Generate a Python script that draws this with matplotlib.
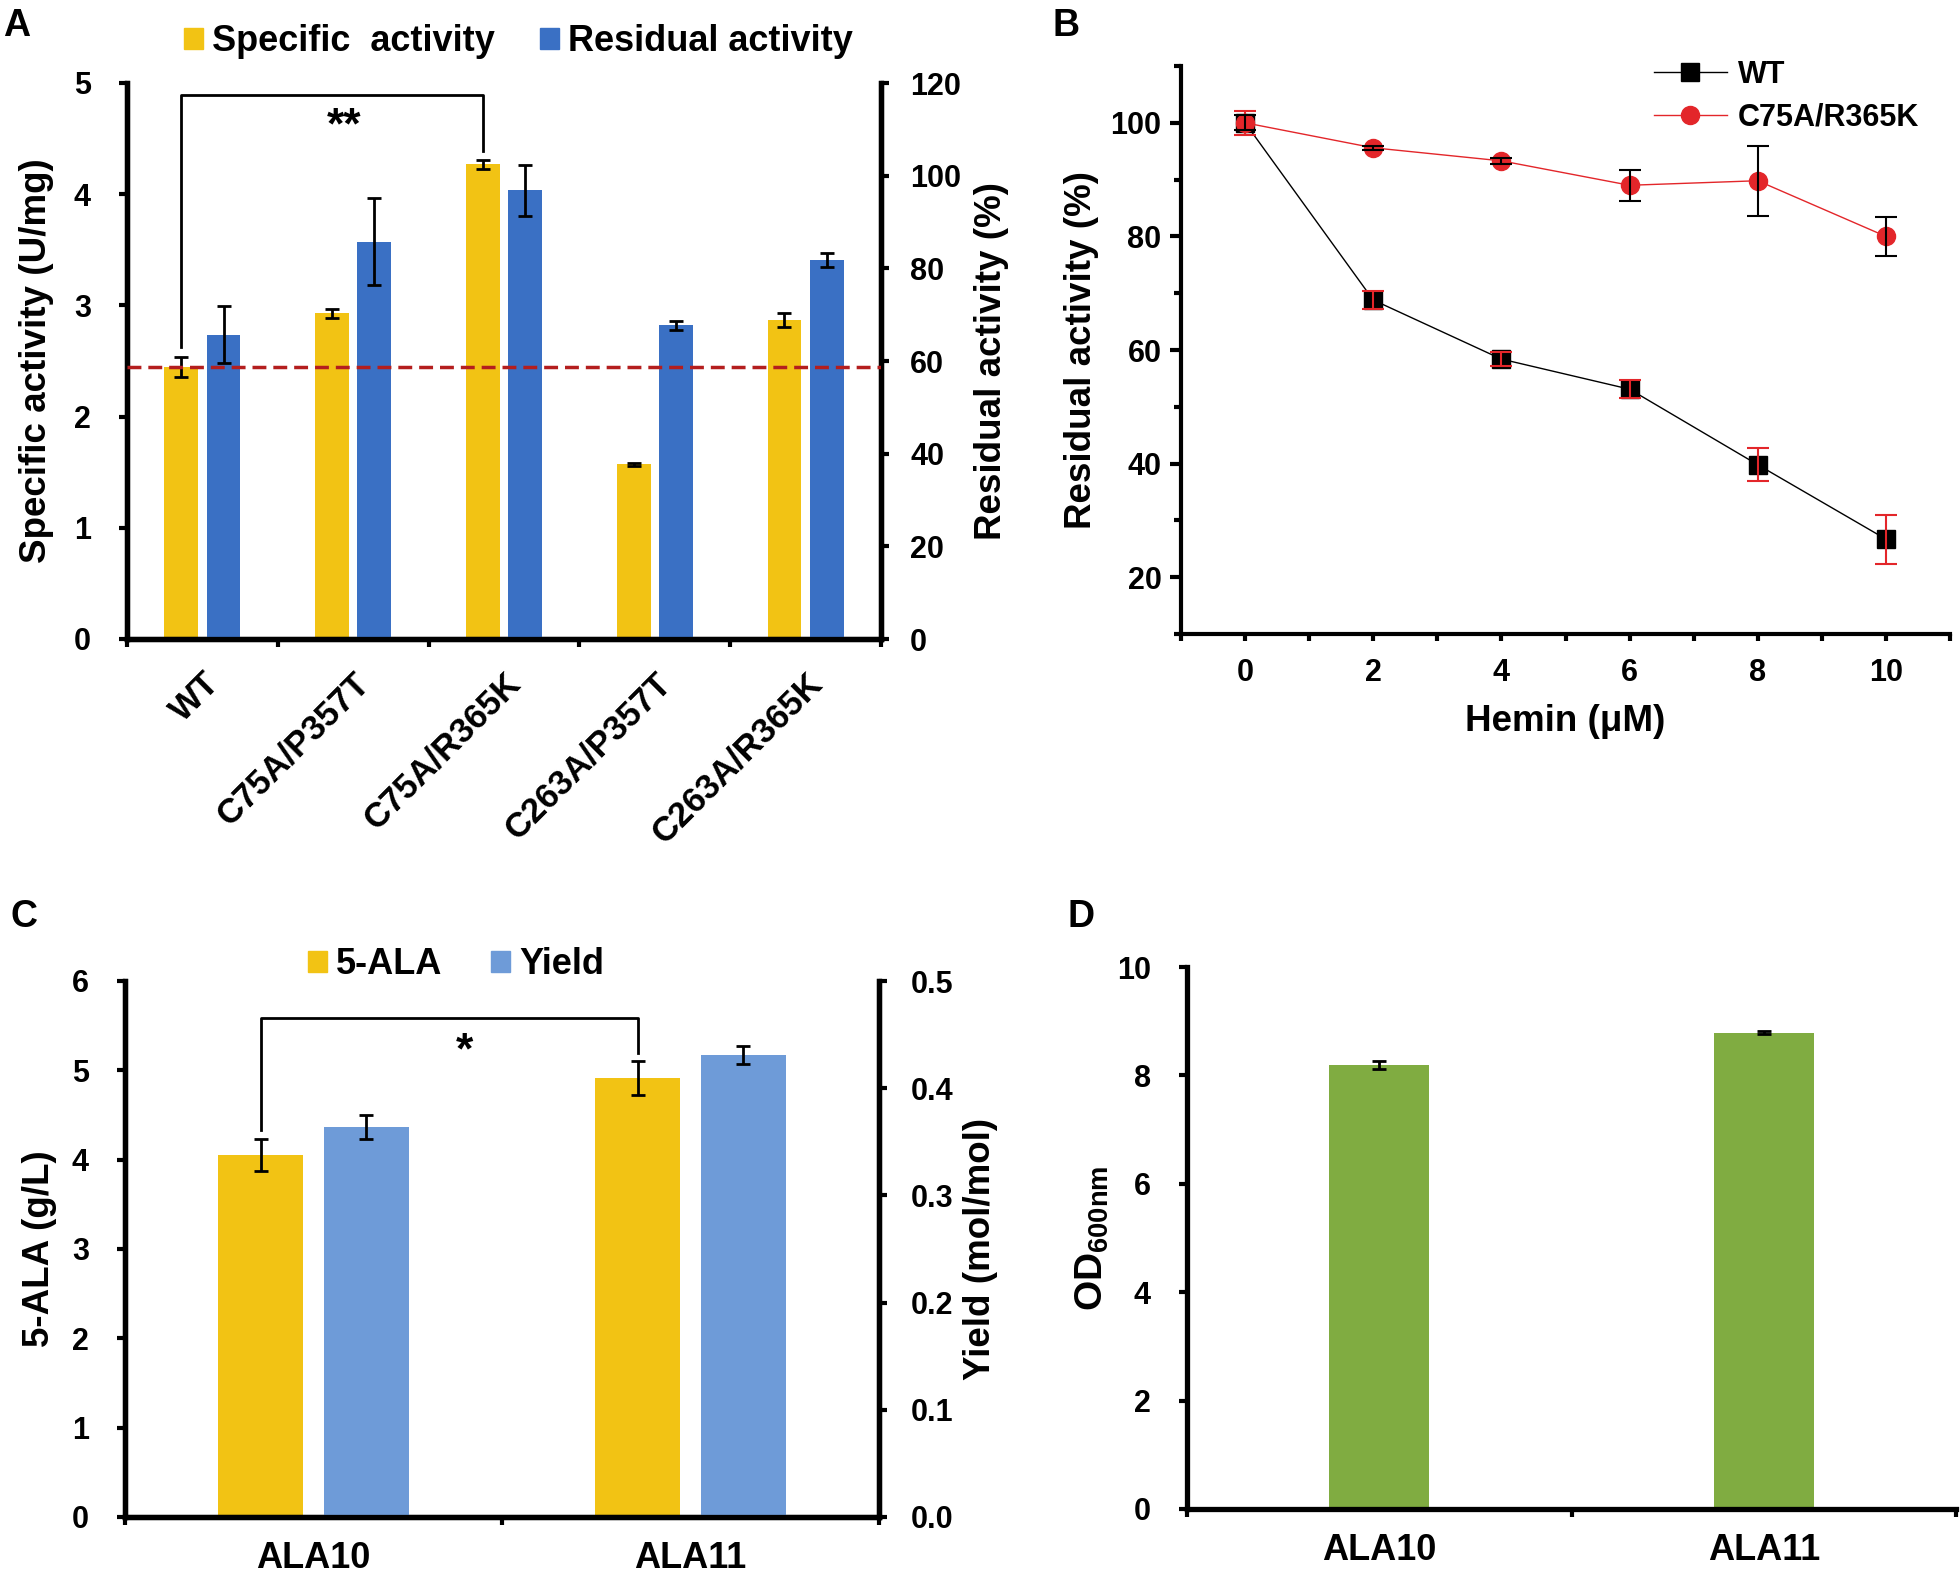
import matplotlib
matplotlib.use('Agg')
import matplotlib.pyplot as plt
from matplotlib.patches import Patch
from matplotlib.transforms import blended_transform_factory

plt.rcParams['font.family'] = ['Liberation Sans', 'DejaVu Sans']
plt.rcParams['font.weight'] = 'bold'
plt.rcParams['axes.labelweight'] = 'bold'
plt.rcParams['mathtext.fontset'] = 'custom'
plt.rcParams['mathtext.rm'] = 'Liberation Sans:bold'
plt.rcParams['mathtext.bf'] = 'Liberation Sans:bold'

# panel A: specific / residual activity of mutants
mutants = ['WT', 'C75A/P357T', 'C75A/R365K', 'C263A/P357T', 'C263A/R365K']
spec_act = [2.45, 2.93, 4.27, 1.57, 2.87]
spec_err = [0.09, 0.04, 0.04, 0.01, 0.06]
resid_act = [65.7, 85.7, 96.8, 67.7, 81.8]
resid_err = [6.2, 9.4, 5.5, 1.0, 1.5]

# panel B: hemin inhibition
hemin = [0, 2, 4, 6, 8, 10]
wt_resid = [100, 68.8, 58.4, 53.1, 39.8, 26.7]
wt_err = [2.1, 1.5, 1.2, 1.6, 2.9, 4.3]
mut_resid = [100, 95.6, 93.3, 89.0, 89.8, 80.0]
mut_err = [1.3, 0.4, 0.5, 2.7, 6.2, 3.5]

# panel C / D: strains
strains = ['ALA10', 'ALA11']
ala = [4.05, 4.91]
ala_err = [0.18, 0.19]
yields = [0.364, 0.431]
yield_err = [0.011, 0.008]
od600 = [8.19, 8.79]
od600_err = [0.08, 0.02]

YELLOW = '#F2C314'
BLUE_A = '#3A70C4'
BLUE_C = '#6E9BD8'
GREEN = '#80AC41'
RED = '#E3262A'

W, H = 1960, 1576


def box(l, t, r, b):
  # pixel box -> figure fraction
  return [l / W, 1 - b / H, (r - l) / W, (b - t) / H]


def excel_style(ax, lw=3.8):
  for s in ['left', 'right', 'bottom']:
    ax.spines[s].set_linewidth(lw)
  ax.spines['top'].set_visible(False)
  ax.tick_params(which='major', direction='out', length=6, width=3, labelsize=22)


def category_ticks(ax, names, fs=26, rot=0, pad=17):
  n = len(names)
  ax.set_xlim(-0.5, n - 0.5)
  ax.set_xticks([i - 0.5 for i in range(n + 1)])
  ax.set_xticklabels([])
  ax.set_xticks(range(n), minor=True)
  if rot:
    ax.set_xticklabels(names, minor=True, rotation=rot, ha='right', va='top',
                       rotation_mode='anchor', fontsize=fs)
  else:
    ax.set_xticklabels(names, minor=True, fontsize=fs)
  ax.tick_params(axis='x', which='minor', length=0, pad=pad)


fig = plt.figure(figsize=(W / 100, H / 100), dpi=100)
eb = dict(ecolor='black', elinewidth=2, capsize=5, capthick=2)
bw = 0.225   # bar width (category units)
off = 0.14   # half distance between paired bars

# ---------------- A ----------------
axA = fig.add_axes(box(127, 83, 881, 639))
axA2 = axA.twinx()
x = list(range(len(mutants)))
axA.bar([i - off for i in x], spec_act, bw, color=YELLOW, yerr=spec_err, error_kw=eb)
axA2.bar([i + off for i in x], resid_act, bw, color=BLUE_A, yerr=resid_err, error_kw=eb)
axA.set_ylim(0, 5)
axA2.set_ylim(0, 120)
axA2.set_yticks(range(0, 121, 20))
for a in (axA, axA2):
  excel_style(a)
axA.tick_params(axis='y', pad=20)
axA2.tick_params(axis='y', pad=15)
category_ticks(axA, mutants, fs=25, rot=45, pad=20)
axA.set_ylabel('Specific activity (U/mg)', fontsize=26.5, labelpad=14)
axA2.set_ylabel('Residual activity (%)', fontsize=26.5, labelpad=9)

# dashed reference line at WT specific activity, drawn above all bars
tr = blended_transform_factory(axA2.transAxes, axA.transData)
axA2.plot([0, 1], [spec_act[0], spec_act[0]], transform=tr, ls='--', lw=2.5,
          color='#B41E1E', zorder=10, dashes=(4, 2))

# significance bracket WT vs C75A/R365K
y0 = spec_act[0] + spec_err[0] + 0.09
y1 = spec_act[2] + spec_err[2] + 0.08
ytop = 4.89
axA.plot([x[0] - off, x[0] - off, x[2] - off, x[2] - off], [y0, ytop, ytop, y1],
         color='black', lw=2)
axA.text((x[0] + x[2]) / 2 - off + 0.08, ytop - 0.1, '**', ha='center', va='top',
         fontsize=32)

axA.legend([Patch(color=YELLOW), Patch(color=BLUE_A)],
           ['Specific  activity', 'Residual activity'],
           loc='center', bbox_to_anchor=(0.519, 1.074), ncol=2, frameon=False,
           fontsize=26, handlelength=0.52, handleheight=0.52, handletextpad=0.25,
           columnspacing=1.25, borderpad=0)

# ---------------- B ----------------
axB = fig.add_axes(box(1181, 66, 1950, 634))
axB.plot(hemin, wt_resid, '-s', color='black', lw=1, ms=13, label='WT', zorder=3)
axB.plot(hemin, mut_resid, '-o', color=RED, mfc=RED, mec=RED, lw=1, ms=13,
         label='C75A/R365K', zorder=4)
axB.errorbar(hemin, wt_resid, yerr=wt_err, fmt='none', ecolor=RED, elinewidth=1.5,
             capsize=8, capthick=1.5, zorder=5)
axB.errorbar(hemin, mut_resid, yerr=mut_err, fmt='none', ecolor='black',
             elinewidth=1.5, capsize=8, capthick=1.5, zorder=6)
axB.set_xlim(-1, 11)
axB.set_ylim(10, 110)
axB.set_xticks(range(0, 11, 2))
axB.set_xticks(range(-1, 12), minor=True)
axB.set_yticks(range(20, 101, 20))
axB.set_yticks(range(10, 111, 20), minor=True)
for s in ['top', 'right']:
  axB.spines[s].set_visible(False)
for s in ['left', 'bottom']:
  axB.spines[s].set_linewidth(3)
axB.tick_params(axis='y', which='major', direction='out', length=8, width=3,
                labelsize=22, pad=6)
axB.tick_params(axis='y', which='minor', direction='out', length=5, width=3)
axB.tick_params(axis='x', which='both', direction='out', length=5, width=3,
                labelsize=22, pad=12)
axB.set_ylabel('Residual activity (%)', fontsize=26.5, labelpad=8)
axB.set_xlabel('Hemin (μM)', fontsize=26.5, labelpad=12)
axB.legend(loc='center left', bbox_to_anchor=(0.595, 0.947), frameon=False,
           fontsize=22, handlelength=2.4, handletextpad=0.35, labelspacing=0.4,
           borderpad=0)

# ---------------- C ----------------
axC = fig.add_axes(box(125, 981, 879, 1517))
axC2 = axC.twinx()
xc = list(range(len(strains)))
axC.bar([i - off for i in xc], ala, bw, color=YELLOW, yerr=ala_err, error_kw=eb)
axC2.bar([i + off for i in xc], yields, bw, color=BLUE_C, yerr=yield_err, error_kw=eb)
axC.set_ylim(0, 6)
axC2.set_ylim(0, 0.5)
yt = [0.0, 0.1, 0.2, 0.3, 0.4, 0.5]
axC2.set_yticks(yt)
axC2.set_yticklabels([f'{v:.1f}' for v in yt])
for a in (axC, axC2):
  excel_style(a)
axC.tick_params(axis='y', pad=20)
axC2.tick_params(axis='y', pad=17)
category_ticks(axC, strains, fs=26, pad=17)
axC.set_ylabel('5-ALA (g/L)', fontsize=26.5, labelpad=11)
axC2.set_ylabel('Yield (mol/mol)', fontsize=26.5, labelpad=7)

y0 = ala[0] + ala_err[0] + 0.1
y1 = ala[1] + ala_err[1] + 0.09
ytop = 5.59
axC.plot([xc[0] - off, xc[0] - off, xc[1] - off, xc[1] - off], [y0, ytop, ytop, y1],
         color='black', lw=2)
axC.text((xc[0] + xc[1]) / 2 - off + 0.04, ytop - 0.15, '*', ha='center', va='top',
         fontsize=32)

axC.legend([Patch(color=YELLOW), Patch(color=BLUE_C)], ['5-ALA', 'Yield'],
           loc='center', bbox_to_anchor=(0.439, 1.03), ncol=2, frameon=False,
           fontsize=26, handlelength=0.52, handleheight=0.52, handletextpad=0.25,
           columnspacing=1.35, borderpad=0)

# ---------------- D ----------------
axD = fig.add_axes(box(1187, 967, 1956, 1509))
axD.bar(range(len(strains)), od600, 0.26, color=GREEN, yerr=od600_err, error_kw=eb)
axD.set_ylim(0, 10)
axD.set_yticks(range(0, 11, 2))
excel_style(axD)
axD.spines['right'].set_visible(False)
axD.tick_params(axis='y', pad=20)
category_ticks(axD, strains, fs=26, pad=17)
axD.set_ylabel(r'OD$_{\mathrm{600nm}}$', fontsize=28, labelpad=4)

# panel letters
for lab, xx, yy in [('A', 3, 8), ('B', 1052, 8), ('C', 10, 899), ('D', 1067, 899)]:
  fig.text(xx / W, 1 - yy / H, lab, fontsize=27, fontweight='bold', ha='left', va='top')

fig.savefig('out.png', dpi=100)
